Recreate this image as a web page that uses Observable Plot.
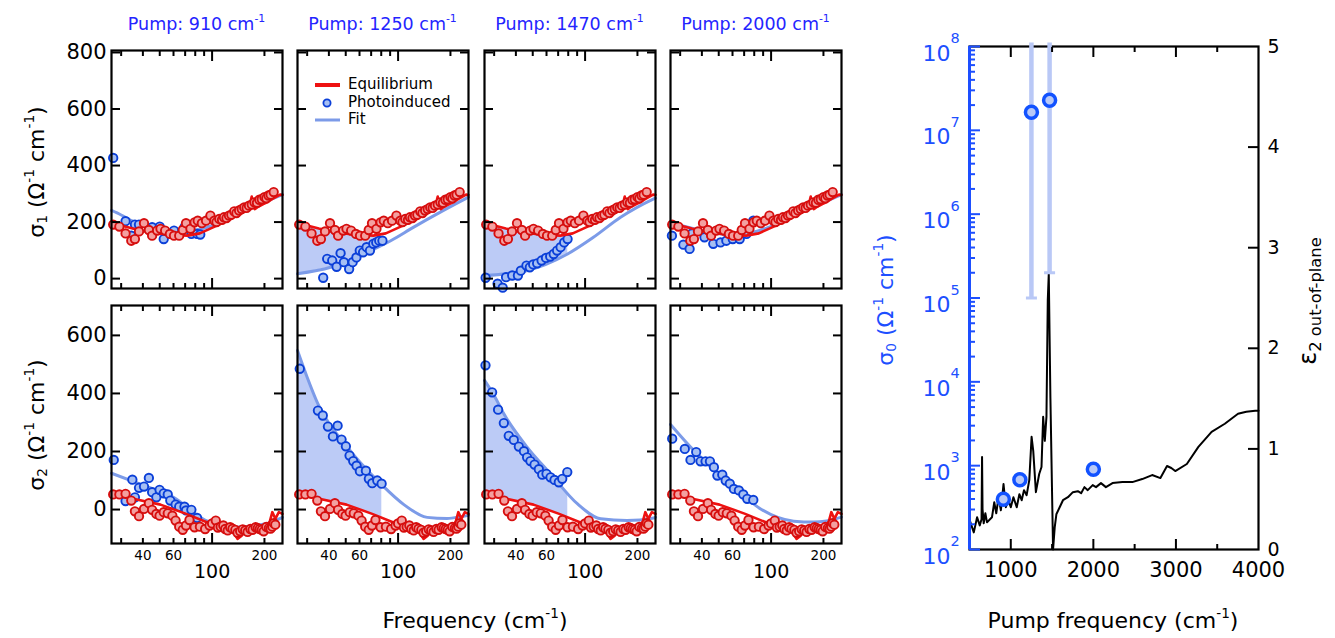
<!DOCTYPE html>
<html><head><meta charset="utf-8">
<script src="https://cdn.jsdelivr.net/npm/d3@7"></script>
<script src="https://cdn.jsdelivr.net/npm/@observablehq/plot@0.6"></script>
<style>
body{margin:0;background:#fff;font-family:"DejaVu Sans",sans-serif;}
#root{position:relative;width:1335px;height:638px;overflow:hidden;background:#fff}
.lab{position:absolute;white-space:nowrap;line-height:1;transform:translate(-50%,-50%)}
.rot{transform:translate(-50%,-50%) rotate(-90deg)}
sup{font-size:0.62em;vertical-align:0.72em;line-height:0}
sub{font-size:0.62em;vertical-align:-0.25em;line-height:0}
</style></head><body><div id="root"></div>
<script>
// ---------------- data ----------------
const pumps = ["910", "1250", "1470", "2000"];
const yTicksS1 = [0, 200, 400, 600, 800];
const yTicksS2 = [0, 200, 400, 600];
const xMinorTicks = [30, 40, 50, 60, 70, 80, 90, 200];
const xMajorTicks = [100];
const xSmallLabels = [40, 60, 200];
const xBigLabels = [100];
const shadeEnd = [null, 80.6, 79.5, null];

const eqS1Dots = [[27,191],[29.3,184],[31.8,160],[34.3,134],[36,140],[38,167],[40.6,196],[43.3,172],[45.2,152],[48.3,170],[50.5,176],[53.7,170],[57.2,158],[60.4,152],[64.7,152],[67.8,172],[70.8,196],[75.1,176],[79.3,199],[82.7,205],[87.3,196],[92.3,205],[97.8,223],[103,205],[106,200],[110,211],[114,208],[117,217],[121,214],[125,223],[129,226],[134,238],[138,232],[143,241],[148,246],[153,252],[158,250],[163,258],[169,262],[175,270],[181,268],[187,279],[193,281],[200,288],[205,284],[211,294],[217,297],[226,306]];
const eqS1Line = [[26.4,197],[30,188],[35,177],[43,164],[55,156],[72,152],[85,160],[102,182],[117,199],[130,212],[145,235],[152,240],[159,252],[164,258],[169,290],[172,262],[176,246],[185,255],[197,264],[210,272],[220,280],[232,288],[246,297],[254,296]];
const eqS2Dots = [[27,52],[29.3,52],[31.8,54],[34.3,31],[36,-6],[38,-23],[40.6,2],[43.3,22],[45.2,-1],[47.8,-15],[49.9,-21],[52.7,-9],[55.6,-13],[59.1,-21],[61.7,-38],[64.7,-59],[67.8,-70],[70.8,-55],[74.1,-36],[79.3,-61],[85.1,-59],[91.2,-67],[96.7,-55],[100,-48],[105,-38],[108,-62],[112,-59],[116,-55],[119,-67],[123,-72],[127,-61],[131,-66],[136,-70],[140,-80],[145,-75],[150,-68],[155,-72],[160,-77],[166,-67],[171,-70],[178,-61],[183,-64],[188,-67],[193,-70],[198,-75],[205,-60],[212,-64],[217,-66],[222,-59],[226,-47],[231,-52]];
const eqS2Line = [[26.4,53],[30,50],[35.2,37],[50.5,17],[71,-15],[93.3,-44],[121,-66],[132,-75],[140,-101],[148,-90],[155,-70],[165,-66],[181,-61],[195,-60],[207,-55],[215,-40],[222,-9],[231,-32],[242,-9],[254,-15]];

const photoS1_910 = [[27,427],[31.8,203],[34.3,152],[36,191],[38,191],[45.2,182],[50,184],[52.7,140],[60.4,170],[69.4,182],[76,158],[82,158],[85.5,156]];
const photoS1_1250 = [[37.1,3],[39.1,70],[41.8,64],[44.3,42],[46.7,90],[48.8,58],[52.3,34],[54.8,58],[57.6,75],[60.2,99],[62.9,93],[65.9,111],[68.9,99],[72,123],[74.9,128],[77.9,134],[81.3,134]];
const photoS1_1470 = [[26.8,3],[31.4,-18],[33.6,-32],[35.1,5],[38.1,11],[41.1,11],[42.7,28],[46,46],[48.1,40],[50.3,50],[53,54],[56.2,64],[59.6,73],[63,78],[66,87],[69,99],[72.3,111],[75.8,128],[79.3,140]];
const photoS1_2000 = [[26.9,152],[31.3,120],[34,105],[35.1,160],[41.4,146],[46.5,123],[51.2,128],[55.3,134],[60.2,140],[66,140],[72.2,158],[79,205]];
const fitS1_910 = [[26.4,241],[30,225],[35,203],[45,183],[60,170],[80,172],[100,188],[150,238],[254,297]];
const fitS1_1250 = [[26.4,17],[40.9,40],[63.2,87],[90.7,134],[123,182],[175,235],[254,288]];
const fitS1_1470 = [[26.4,11],[46,28],[79.3,87],[111.6,146],[160,217],[248,282],[254,285]];
const fitS1_2000 = [[26.4,200],[35,178],[45,163],[60,155],[80,165],[100,185],[150,235],[254,297]];

const photoS2_910 = [[27.2,171],[31.8,29],[34.8,103],[36,42],[38,75],[40.6,79],[43.3,109],[45.2,60],[47.8,42],[49.9,68],[52.7,56],[55.6,52],[57.5,31],[61.7,17],[64.7,10],[69.4,10],[70.8,-3],[76,-1],[82,-29]];
const photoS2_1250 = [[27.2,485],[34.6,341],[36.9,324],[39.5,286],[42.2,252],[44.9,289],[47.3,241],[50.1,218],[52.6,186],[55.2,167],[57.7,151],[60.3,132],[65.3,134],[67.9,106],[71,91],[75.9,100],[80.4,89]];
const photoS2_1470 = [[26.75,497],[29.2,404],[31.6,344],[34.1,298],[36.4,254],[38.9,240],[41.6,217],[44.5,201],[46.4,180],[48.5,167],[51.2,155],[54.2,139],[56.7,120],[60,123],[63.3,111],[66.7,102],[70.6,94],[73.9,106],[79,129]];
const photoS2_2000 = [[27,244],[31.9,209],[34.4,171],[37.1,198],[39.3,166],[42,166],[44.5,166],[46.9,146],[49.1,117],[52.4,120],[54.8,100],[57.9,89],[61.1,71],[65.3,66],[69.2,52],[72.9,37],[79,33]];
const fitS2_910 = [[26.4,125],[38,89],[60,42],[91,-36],[133,-61],[207,-48],[254,-27]];
const fitS2_1250 = [[26.4,548],[30,456],[34.6,364],[51.1,215],[79.4,89],[108,17],[147,-27],[191,-31],[233,-24],[254,-20]];
const fitS2_1470 = [[26.4,445],[30,393],[34.1,330],[46.4,215],[63.3,123],[90.2,20],[123,-32],[174,-38],[248,-29],[254,-27]];
const fitS2_2000 = [[26.4,293],[36,203],[55.9,100],[87.1,2],[135,-40],[176,-43],[251,-27],[254,-26]];

// right panel
const sigma0Pts = [[910,398],[1110,679],[1250,1.64e7],[1470,2.28e7],[2000,908]];
const sigma0Err = [[1250,1e5,1.1e8],[1470,2e5,1.1e8]];
const sigmaExps = [2,3,4,5,6,7,8];
const pumpMajorTicks = [1000,2000,3000];
const pumpMinorTicks = [1500,2500,3500];
const pumpLabels = [1000,2000,3000,4000];
const epsTicks = [0,1,2,3,4,5];
const epsCurve = [[500,1.35],[503,0.29],[552,0.17],[592,0.32],[624,0.24],[646,0.3],[652,0.92],[658,0.4],[672,0.26],[692,0.36],[712,0.27],[772,0.32],[800,0.47],[824,0.36],[852,0.52],[880,0.39],[912,0.65],[940,0.42],[972,0.49],[1000,0.42],[1032,0.52],[1072,0.42],[1104,0.55],[1132,0.49],[1160,0.59],[1192,0.54],[1224,0.69],[1252,1.12],[1272,0.98],[1304,0.57],[1344,0.75],[1372,0.82],[1392,1.32],[1412,1.08],[1432,1.32],[1448,2.48],[1460,2.74],[1480,1.5],[1512,0],[1532,0.22],[1552,0.35],[1592,0.42],[1632,0.49],[1692,0.52],[1752,0.57],[1812,0.58],[1852,0.56],[1892,0.62],[1932,0.59],[1992,0.64],[2032,0.62],[2092,0.66],[2152,0.62],[2232,0.66],[2352,0.67],[2472,0.67],[2592,0.7],[2712,0.74],[2812,0.71],[2892,0.83],[2944,0.81],[2992,0.78],[3132,0.85],[3272,1.02],[3432,1.17],[3592,1.25],[3752,1.35],[3852,1.37],[3960,1.38],[4000,1.38]];

// ---------------- styles ----------------
const FONT = "DejaVu Sans, sans-serif";
const RED = "#ee1111", RED_STROKE = "#d60e0e", RED_FILL = "#f3a0a0";
const DOT_BLUE = "#0b3fd8", DOT_FILL = "#a6bff3";
const FIT = "#7c9be8", SHADE = "#bccbf6";
const TITLE_BLUE = "#2424ff", AX_BLUE = "#1d4fff";
const ERR = "#b9c8f6";

const photoS1 = [photoS1_910, photoS1_1250, photoS1_1470, photoS1_2000];
const fitS1 = [fitS1_910, fitS1_1250, fitS1_1470, fitS1_2000];
const photoS2 = [photoS2_910, photoS2_1250, photoS2_1470, photoS2_2000];
const fitS2 = [fitS2_910, fitS2_1250, fitS2_1470, fitS2_2000];

const root = document.getElementById("root");
function place(el, left, top) {
  const w = document.createElement("div");
  w.style.position = "absolute"; w.style.left = left + "px"; w.style.top = top + "px";
  w.appendChild(el); root.appendChild(w);
}
function label(html, cx, cy, opts = {}) {
  const d = document.createElement("div");
  d.className = "lab" + (opts.rotate ? " rot" : "");
  d.style.left = cx + "px"; d.style.top = cy + "px";
  d.style.fontSize = (opts.size || 22) + "px";
  d.style.color = opts.color || "#000";
  d.innerHTML = html;
  root.appendChild(d);
}
function interpLog(arr, f) {
  for (let i = 0; i < arr.length - 1; i++) {
    const [f0, v0] = arr[i], [f1, v1] = arr[i + 1];
    if (f >= f0 && f <= f1) { const t = (Math.log(f) - Math.log(f0)) / (Math.log(f1) - Math.log(f0)); return v0 + t * (v1 - v0); }
  }
  return f < arr[0][0] ? arr[0][1] : arr[arr.length - 1][1];
}
function shadeRows(top, bot, f0, f1) {
  const fs = [...new Set([f0, f1, ...top.map(d => d[0]), ...bot.map(d => d[0])])].filter(f => f >= f0 && f <= f1).sort((a, b) => a - b);
  return fs.map(f => ({f, lo: interpLog(bot, f), hi: interpLog(top, f)}));
}
const xy = {x: d => d[0], y: d => d[1]};
const svgStyle = {background: "transparent", overflow: "visible", fontFamily: FONT, maxWidth: "none"};

// ---------------- left panels ----------------
const PW = 171, PH = 238;
const colLeft = [111, 297, 484, 670], rowTop = [50, 305];
const mL = 70, mR = 20, mT = 15, mB = 50;
for (let ri = 0; ri < 2; ri++) {
  for (let ci = 0; ci < 4; ci++) {
    const photo = (ri ? photoS2 : photoS1)[ci], fit = (ri ? fitS2 : fitS1)[ci];
    const eqLine = ri ? eqS2Line : eqS1Line, eqDots = ri ? eqS2Dots : eqS1Dots;
    const yTicks = ri ? yTicksS2 : yTicksS1;
    const marks = [];
    if (shadeEnd[ci]) marks.push(Plot.areaY(shadeRows(eqLine, fit, 26.4, shadeEnd[ci]), {x: "f", y1: "lo", y2: "hi", fill: SHADE}));
    marks.push(Plot.line(fit, {...xy, stroke: FIT, strokeWidth: 3, curve: "monotone-x"}));
    marks.push(Plot.dot(photo, {...xy, r: 4.2, fill: DOT_FILL, stroke: DOT_BLUE, strokeWidth: 1.9}));
    marks.push(Plot.line(eqLine, {...xy, stroke: RED, strokeWidth: 2.6}));
    marks.push(Plot.dot(eqDots, {...xy, r: 4.2, fill: RED_FILL, stroke: RED_STROKE, strokeWidth: 1.9}));
    marks.push(Plot.frame({stroke: "#000", strokeWidth: 2.2}));
    for (const anchor of ["left", "right"]) {
      marks.push(Plot.axisY({anchor, ticks: yTicks, tickSize: -9, strokeWidth: 2, tickFormat: () => "", label: null}));
    }
    if (ci === 0) marks.push(Plot.axisY({anchor: "left", ticks: yTicks, tickSize: 0, tickPadding: 5, fontSize: 21, tickFormat: d => String(d), label: null}));
    for (const anchor of ["top", "bottom"]) {
      marks.push(Plot.axisX({anchor, ticks: xMinorTicks, tickSize: -5, strokeWidth: 2, tickFormat: () => "", label: null}));
      marks.push(Plot.axisX({anchor, ticks: xMajorTicks, tickSize: -10, strokeWidth: 2, tickFormat: () => "", label: null}));
    }
    if (ri === 1) {
      marks.push(Plot.axisX({anchor: "bottom", ticks: xSmallLabels, tickSize: 0, tickPadding: 7, fontSize: 13.5, tickFormat: d => String(d), label: null}));
      marks.push(Plot.axisX({anchor: "bottom", ticks: xBigLabels, tickSize: 0, tickPadding: 21, fontSize: 19, tickFormat: d => String(d), label: null}));
    }
    const p = Plot.plot({
      width: PW + mL + mR, height: PH + mT + mB,
      marginLeft: mL, marginRight: mR, marginTop: mT, marginBottom: mB,
      x: {type: "log", domain: [26.4, 254]},
      y: {domain: ri ? [-117, 703] : [-35, 807]},
      style: svgStyle,
      marks
    });
    place(p, colLeft[ci] - mL, rowTop[ri] - mT);
  }
}

// titles
pumps.forEach((p, ci) => label(`Pump: ${p} cm<sup>-1</sup>`, colLeft[ci] + PW / 2, 25, {size: 17.5, color: TITLE_BLUE}));
label(`σ<sub>1</sub> (Ω<sup>-1</sup> cm<sup>-1</sup>)`, 37, 172, {rotate: true, size: 22});
label(`σ<sub>2</sub> (Ω<sup>-1</sup> cm<sup>-1</sup>)`, 37, 425, {rotate: true, size: 22});
label(`Frequency (cm<sup>-1</sup>)`, 475, 621, {size: 22});

// legend
const lg = document.createElement("div");
lg.style.cssText = "position:absolute;left:315px;top:76px;font-size:15px;line-height:17.5px;color:#000";
lg.innerHTML = `
<div style="display:flex;align-items:center"><svg width="33" height="17"><line x1="0" x2="25" y1="9" y2="9" stroke="${RED}" stroke-width="4"/></svg><span>Equilibrium</span></div>
<div style="display:flex;align-items:center"><svg width="33" height="17"><circle cx="12" cy="9" r="3.6" fill="${DOT_FILL}" stroke="${DOT_BLUE}" stroke-width="1.8"/></svg><span>Photoinduced</span></div>
<div style="display:flex;align-items:center"><svg width="33" height="17"><line x1="0" x2="25" y1="9" y2="9" stroke="${FIT}" stroke-width="3"/></svg><span>Fit</span></div>`;
root.appendChild(lg);

// ---------------- right panel ----------------
const RW = 289, RH = 503, rL = 969, rT = 46;
const rmL = 80, rmR = 70, rmT = 20, rmB = 50;
const base = {width: RW + rmL + rmR, height: RH + rmT + rmB, marginLeft: rmL, marginRight: rmR, marginTop: rmT, marginBottom: rmB, style: svgStyle};
const epsPlot = Plot.plot({
  ...base,
  x: {domain: [500, 4000], axis: null},
  y: {domain: [0, 5]},
  marks: [
    Plot.line(epsCurve, {...xy, stroke: "#000", strokeWidth: 2}),
    Plot.axisY({anchor: "right", ticks: epsTicks, tickSize: 0, tickPadding: 9, fontSize: 19, tickFormat: d => String(d), label: null}),
    Plot.axisY({anchor: "right", ticks: [1, 2, 3, 4], tickSize: -11, strokeWidth: 2, tickFormat: () => "", label: null})
  ]
});
place(epsPlot, rL - rmL, rT - rmT);

const capSymbol = {draw(ctx, size) { const r = Math.sqrt(size / Math.PI); ctx.moveTo(-r, 0); ctx.lineTo(r, 0); }};
const minorDecade = [];
for (let e = 2; e < 8; e++) for (let k = 2; k <= 9; k++) minorDecade.push(k * 10 ** e);
const sigPlot = Plot.plot({
  ...base,
  x: {domain: [500, 4000]},
  y: {type: "log", domain: [100, 1e8]},
  marks: [
    Plot.frame({stroke: "#000", strokeWidth: 2.2}),
    Plot.ruleX(sigma0Err, {x: d => d[0], y1: d => d[1], y2: d => d[2], stroke: ERR, strokeWidth: 4.5}),
    Plot.dot(sigma0Err, {x: d => d[0], y: d => d[1], symbol: capSymbol, r: 5.5, stroke: ERR, strokeWidth: 3, fill: "none"}),
    Plot.dot(sigma0Pts, {...xy, r: 6, fill: "#b9c9f7", stroke: "#1252ff", strokeWidth: 3.5}),
    Plot.ruleX([500], {stroke: AX_BLUE, strokeWidth: 3}),
    Plot.axisY({anchor: "left", ticks: sigmaExps.map(e => 10 ** e), tickSize: -11, stroke: AX_BLUE, strokeWidth: 2, tickFormat: () => "", label: null}),
    Plot.axisY({anchor: "left", ticks: minorDecade, tickSize: -6, stroke: AX_BLUE, strokeWidth: 2, tickFormat: () => "", label: null}),
    Plot.text(sigmaExps, {y: e => 10 ** e, frameAnchor: "left", text: () => "10", textAnchor: "end", dx: -19, dy: 7, fontSize: 22, fill: AX_BLUE}),
    Plot.text(sigmaExps, {y: e => 10 ** e, frameAnchor: "left", text: e => String(e), textAnchor: "start", dx: -19, dy: -8, fontSize: 14.5, fill: AX_BLUE}),
    Plot.axisX({anchor: "bottom", ticks: pumpMajorTicks, tickSize: -10, strokeWidth: 2, tickFormat: () => "", label: null}),
    Plot.axisX({anchor: "bottom", ticks: pumpMinorTicks, tickSize: -5, strokeWidth: 2, tickFormat: () => "", label: null}),
    Plot.axisX({anchor: "top", ticks: pumpMajorTicks, tickSize: -10, strokeWidth: 2, tickFormat: () => "", label: null}),
    Plot.axisX({anchor: "top", ticks: pumpMinorTicks, tickSize: -5, strokeWidth: 2, tickFormat: () => "", label: null}),
    Plot.axisX({anchor: "bottom", ticks: pumpLabels, tickSize: 0, tickPadding: 13, fontSize: 21, tickFormat: d => String(d), label: null})
  ]
});
place(sigPlot, rL - rmL, rT - rmT);

label(`σ<sub>0</sub> (Ω<sup>-1</sup> cm<sup>-1</sup>)`, 886, 300, {rotate: true, size: 22, color: AX_BLUE});
label(`ε<span style="font-size:0.68em;vertical-align:-0.3em;line-height:0">2 out-of-plane</span>`, 1308, 301, {rotate: true, size: 24});
label(`Pump frequency (cm<sup>-1</sup>)`, 1113, 621, {size: 22});
</script></body></html>
